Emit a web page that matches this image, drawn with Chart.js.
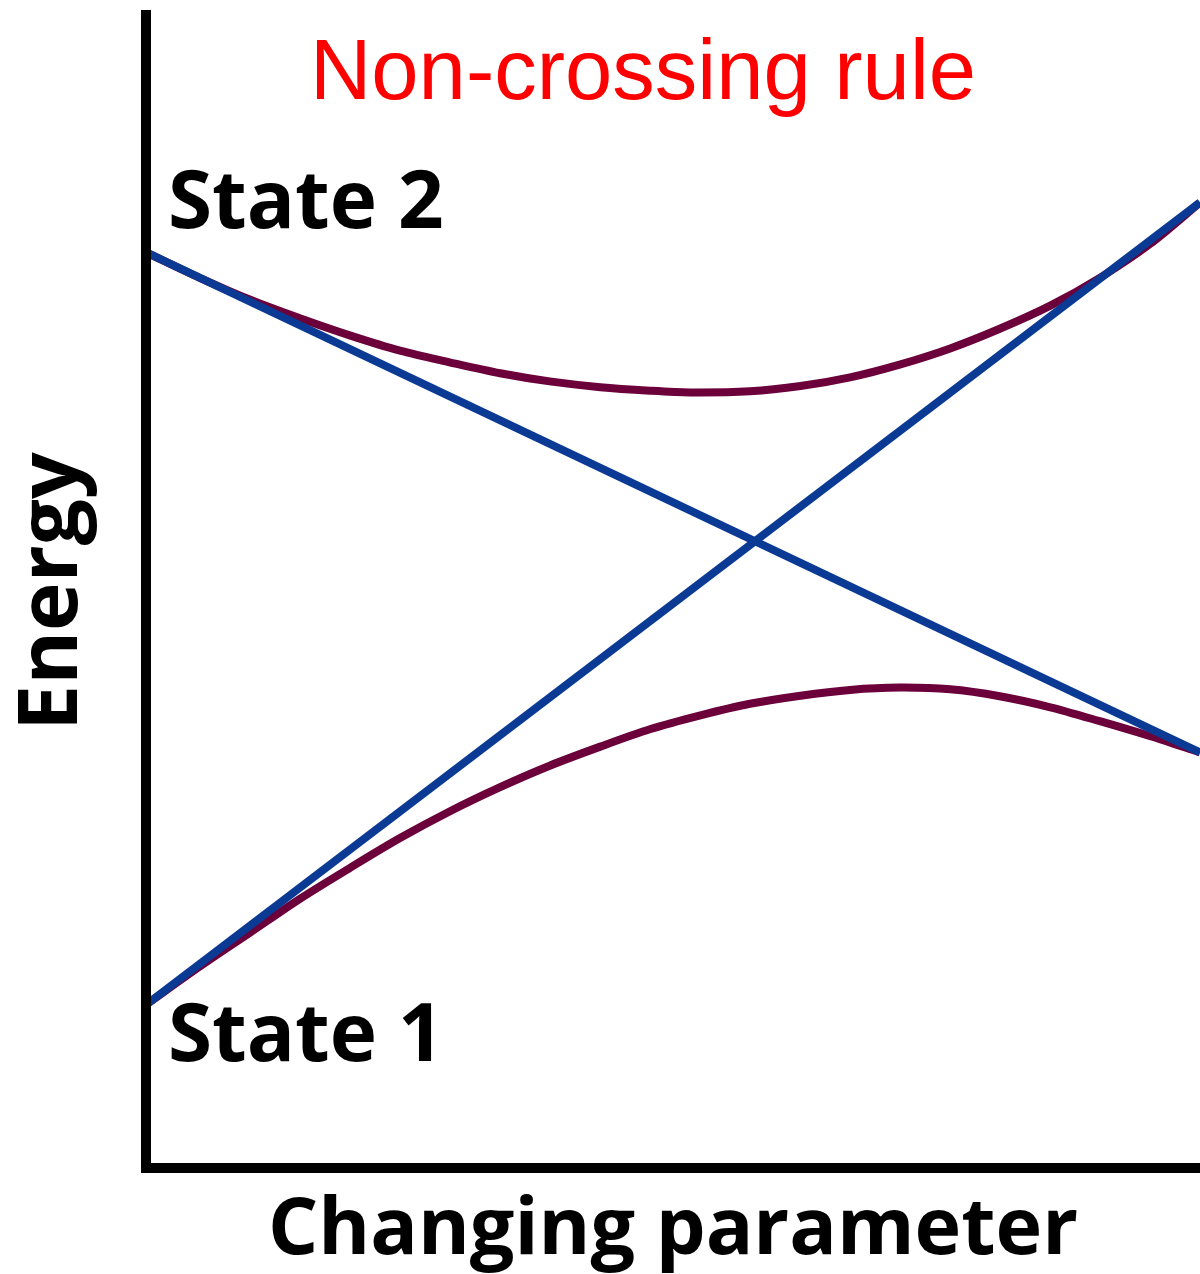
<!DOCTYPE html>
<html>
<head>
<meta charset="utf-8">
<script src="https://cdn.jsdelivr.net/npm/chart.js@4.4.1/dist/chart.umd.min.js"></script>
<style>
  html, body { margin: 0; padding: 0; background: #ffffff; }
  #wrap { width: 1200px; height: 1274px; position: relative; }
</style>
</head>
<body>
<div id="wrap"><canvas id="c"></canvas></div>
<script>
// ---- Data (changing parameter 0..100, energy in arbitrary units) ----
const chartTitle = "Non-crossing rule";
const xAxisTitle = "Changing parameter";
const yAxisTitle = "Energy";
const stateLabels = ["State 2", "State 1"];

// Upper adiabatic curve (purple)
const upperX = [0, 5.1, 9.9, 14.6, 19.4, 24.1, 28.8, 33.6, 38.3, 43.1, 47.8, 51.6, 57.3, 62.1, 66.8, 71.5, 76.3, 81.0, 85.8, 90.5, 95.3, 100];
const upperY = [79.1, 76.9, 75.0, 73.4, 71.9, 70.6, 69.6, 68.65, 67.95, 67.45, 67.15, 67.0, 67.1, 67.55, 68.3, 69.4, 70.8, 72.5, 74.5, 76.9, 79.85, 83.4];

// Lower adiabatic curve (purple)
const lowerX = [0, 5.1, 9.9, 14.6, 19.4, 24.1, 28.8, 33.6, 38.3, 43.1, 47.8, 52.6, 57.3, 62.1, 66.8, 71.5, 76.3, 81.0, 85.8, 90.5, 95.3, 100];
const lowerY = [14.1, 17.4, 20.35, 23.25, 25.95, 28.5, 30.8, 32.9, 34.75, 36.4, 37.9, 39.1, 40.1, 40.8, 41.3, 41.5, 41.35, 40.75, 39.8, 38.6, 37.3, 35.9];

// Crossing (diabatic) straight lines (blue)
const diabaticAX = [0, 100];
const diabaticAY = [79.1, 35.9];
const diabaticBX = [0, 100];
const diabaticBY = [14.1, 83.4];

const xMin = 0, xMax = 100, yMin = 0, yMax = 99.6;

const purple = "rgb(108, 0, 58)";
const blue = "rgb(10, 58, 148)";

function pts(xs, ys) { return xs.map((x, i) => ({ x: x, y: ys[i] })); }

const textPlugin = {
  id: "textPlugin",
  afterDraw(chart) {
    const ctx = chart.ctx;
    ctx.save();
    ctx.fillStyle = "#ff0000";
    ctx.font = "85px 'Liberation Sans', Arial, sans-serif";
    ctx.textAlign = "center";
    ctx.textBaseline = "alphabetic";
    ctx.fillText(chartTitle, 643, 99);
    ctx.fillStyle = "#000000";
    ctx.font = "bold 80px 'Open Sans', sans-serif";
    ctx.textAlign = "left";
    ctx.fillText(stateLabels[0], 168, 228);
    ctx.fillText(stateLabels[1], 168, 1061);
    ctx.restore();
  }
};

const lineCommon = { pointRadius: 0, pointHoverRadius: 0, fill: false, clip: { left: -5, top: false, right: false, bottom: false } };

new Chart(document.getElementById("c"), {
  type: "line",
  data: {
    datasets: [
      Object.assign({ label: "Diabatic A", data: pts(diabaticAX, diabaticAY), borderColor: blue, borderWidth: 8, tension: 0, order: 1 }, lineCommon),
      Object.assign({ label: "Diabatic B", data: pts(diabaticBX, diabaticBY), borderColor: blue, borderWidth: 8, tension: 0, order: 1 }, lineCommon),
      Object.assign({ label: "Upper state", data: pts(upperX, upperY), borderColor: purple, borderWidth: 8, tension: 0.3, order: 2 }, lineCommon),
      Object.assign({ label: "Lower state", data: pts(lowerX, lowerY), borderColor: purple, borderWidth: 8, tension: 0.3, order: 2 }, lineCommon)
    ]
  },
  options: {
    responsive: true,
    maintainAspectRatio: false,
    animation: false,
    devicePixelRatio: 1,
    layout: { padding: { top: 15, right: 0, bottom: 0, left: 0 } },
    plugins: { legend: { display: false }, tooltip: { enabled: false }, title: { display: false } },
    scales: {
      x: {
        type: "linear", min: xMin, max: xMax,
        grid: { display: false, lineWidth: 10, drawTicks: false },
        border: { display: true, width: 10, color: "#000000" },
        ticks: { display: false },
        title: { display: true, text: xAxisTitle, color: "#000000",
                 font: { family: "'Open Sans', sans-serif", size: 79, weight: "bold", lineHeight: 1.0 },
                 padding: { top: 0, bottom: 3 } },
        afterFit(scale) { scale.height = 106; }
      },
      y: {
        type: "linear", min: yMin, max: yMax,
        grid: { display: false, lineWidth: 10, drawTicks: false },
        border: { display: true, width: 10, color: "#000000" },
        ticks: { display: false },
        title: { display: true, text: yAxisTitle, color: "#000000",
                 font: { family: "'Open Sans', sans-serif", size: 82, weight: "bold", lineHeight: 1.0 },
                 padding: { top: 13, bottom: 0 } },
        afterFit(scale) { scale.width = 146; }
      }
    }
  },
  plugins: [textPlugin]
});
</script>
</body>
</html>
